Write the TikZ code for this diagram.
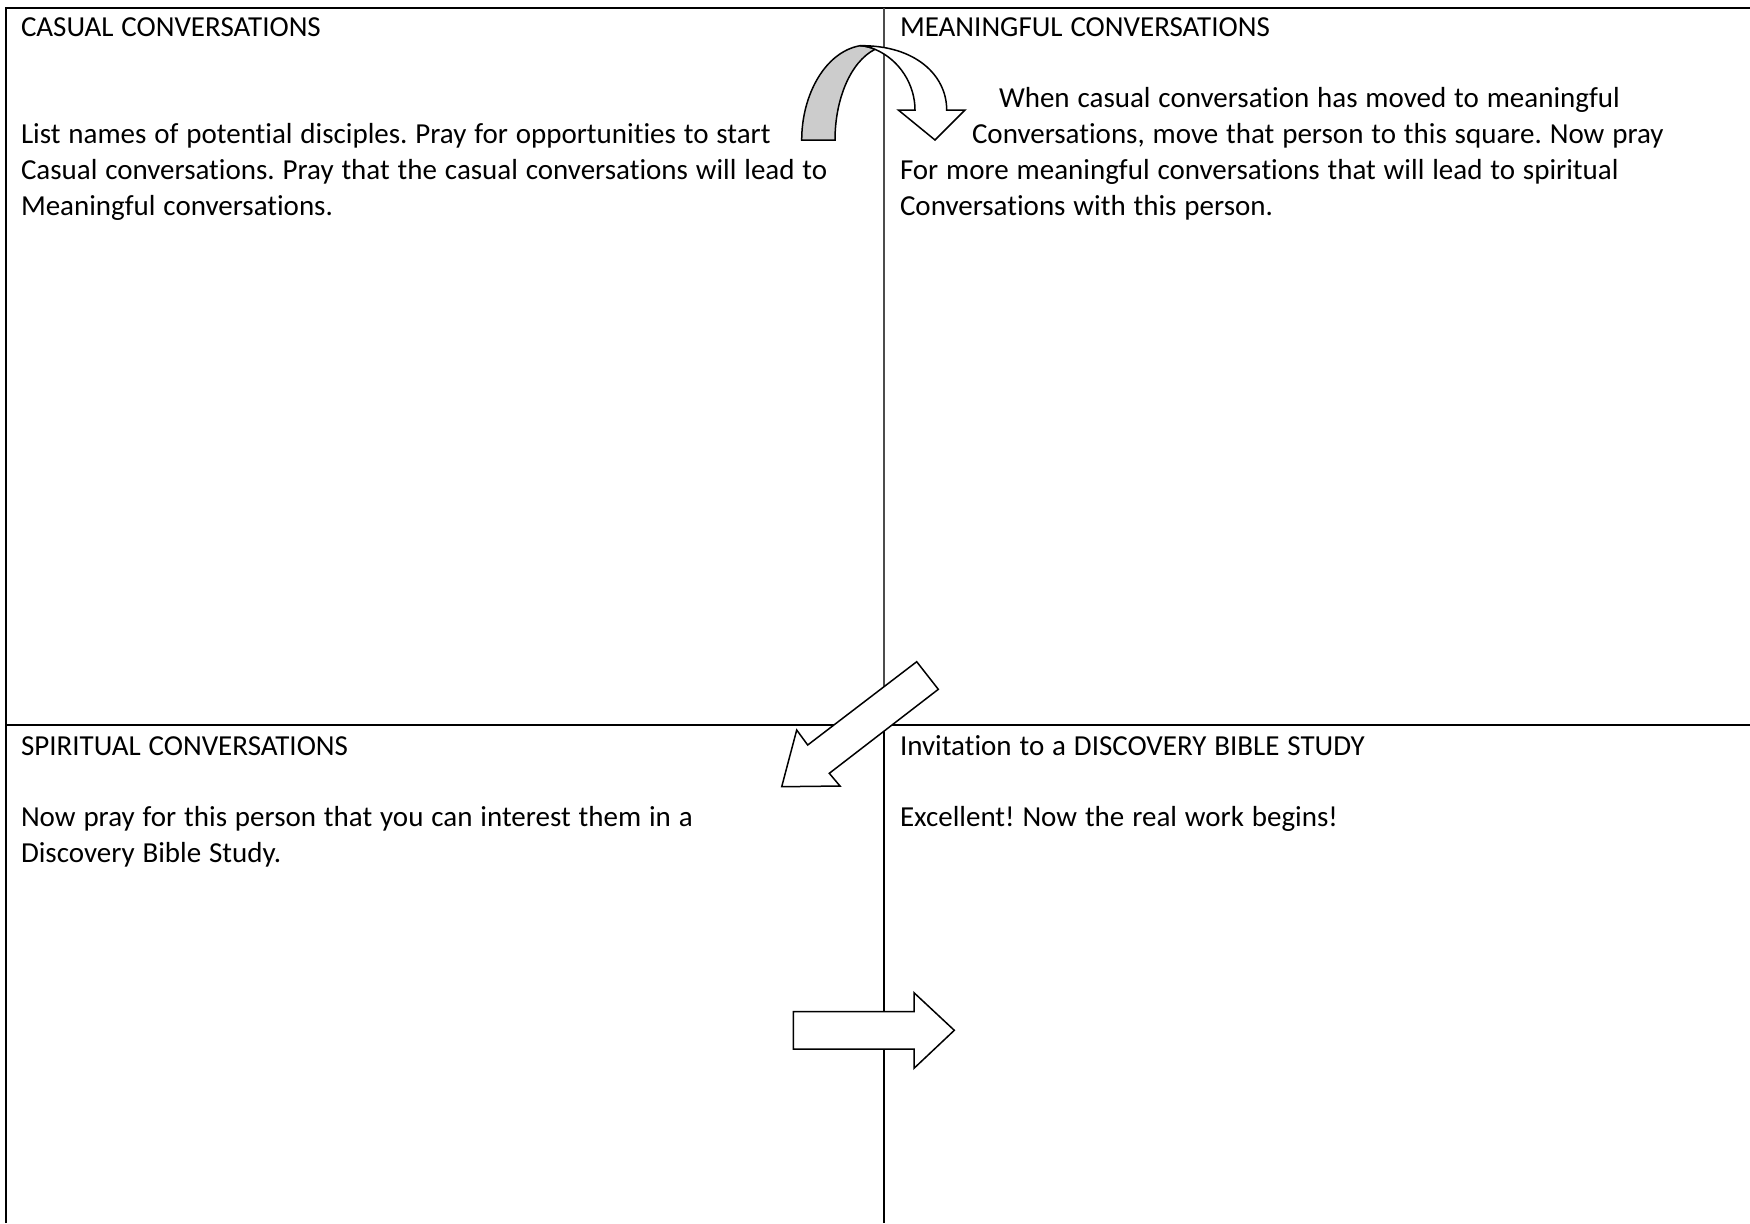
\documentclass[tikz,border=0pt]{standalone}
\usepackage{fontspec}
\setmainfont{Carlito}[Ligatures={NoCommon}]
\frenchspacing
\newcommand\cellfont{\fontsize{14.5}{18}\selectfont\frenchspacing\spaceskip=3.944pt plus 0pt minus 0pt\relax}
\begin{document}
\begin{tikzpicture}[x=0.5pt,y=-0.5pt,
  txt/.style={anchor=base west,inner sep=0pt,outer sep=0pt,font=\cellfont},
  rule/.style={line width=1.25pt,black},
  softrule/.style={line width=0.7pt,black!70},
  shapeline/.style={line width=0.75pt,black,line join=miter}]
\useasboundingbox (0,0) rectangle (1750,1223);
% grid coordinates
\coordinate (tl) at (6,8);
\coordinate (tr) at (1750,8);
\coordinate (bl) at (6,1223);
\coordinate (mt) at (884,8);
\coordinate (mm) at (884,725);
\coordinate (mb) at (884,1223);
\coordinate (ml) at (6,725);
\coordinate (mr) at (1750,725);
\draw[rule] (bl) -- (tl) -- (tr);
\draw[rule] (ml) -- (mr);
\draw[softrule] (mt) -- (mm);
\draw[rule] (mm) -- (mb);
% texts top-left
\node[txt] (h1) at (21,36) {CASUAL CONVERSATIONS};
\node[txt] (a1) at (21,143) {List names of potential disciples. Pray for opportunities to start};
\node[txt] (a2) at (21,179) {Casual conversations. Pray that the casual conversations will lead to};
\node[txt] (a3) at (21,215) {Meaningful conversations.};
% top-right
\node[txt] (h2) at (900,36) {MEANINGFUL CONVERSATIONS};
\node[txt] (b1) at (999,107) {When casual conversation has moved to meaningful};
\node[txt] (b2) at (972,143) {Conversations, move that person to this square. Now pray};
\node[txt] (b3) at (900,179) {For more meaningful conversations that will lead to spiritual};
\node[txt] (b4) at (900,215) {Conversations with this person.};
% bottom-left
\node[txt] (h3) at (21,755) {SPIRITUAL CONVERSATIONS};
\node[txt] (c1) at (21,826) {Now pray for this person that you can interest them in a};
\node[txt] (c2) at (21,862) {Discovery Bible Study.};
% bottom-right
\node[txt] (h4) at (900,755) {Invitation to a DISCOVERY BIBLE STUDY};
\node[txt] (d1) at (900,826) {Excellent! Now the real work begins!};
% curved arrow: gray back band
\draw[shapeline,fill=black!20] (801.7,140) .. controls (801.7,95) and (825,52) .. (860,45.7)
  .. controls (866,46) and (871,47.5) .. (875,49.3)
  .. controls (850,62) and (835,100) .. (835,140) -- cycle;
% curved arrow: white front band with head
\draw[shapeline,fill=white] (860,45.7) .. controls (915,45) and (946.7,75) .. (946.7,110)
  -- (965,110) -- (935,140) -- (898.3,110) -- (915,110)
  .. controls (915,85) and (900,60) .. (875,49.3)
  .. controls (871,47.5) and (866,46) .. cycle;
% diagonal arrow
\draw[shapeline,fill=white] (916.7,661.7) -- (938.3,689.3) -- (829.3,773.3) -- (840,786)
  -- (781.7,786.7) -- (796.7,730) -- (807.7,745) -- cycle;
% right arrow
\draw[shapeline,fill=white] (793.3,1011.7) -- (914,1011.7) -- (914,992.7) -- (954.3,1030.3)
  -- (914,1068.3) -- (914,1049) -- (793.3,1049) -- cycle;
\end{tikzpicture}
\end{document}
